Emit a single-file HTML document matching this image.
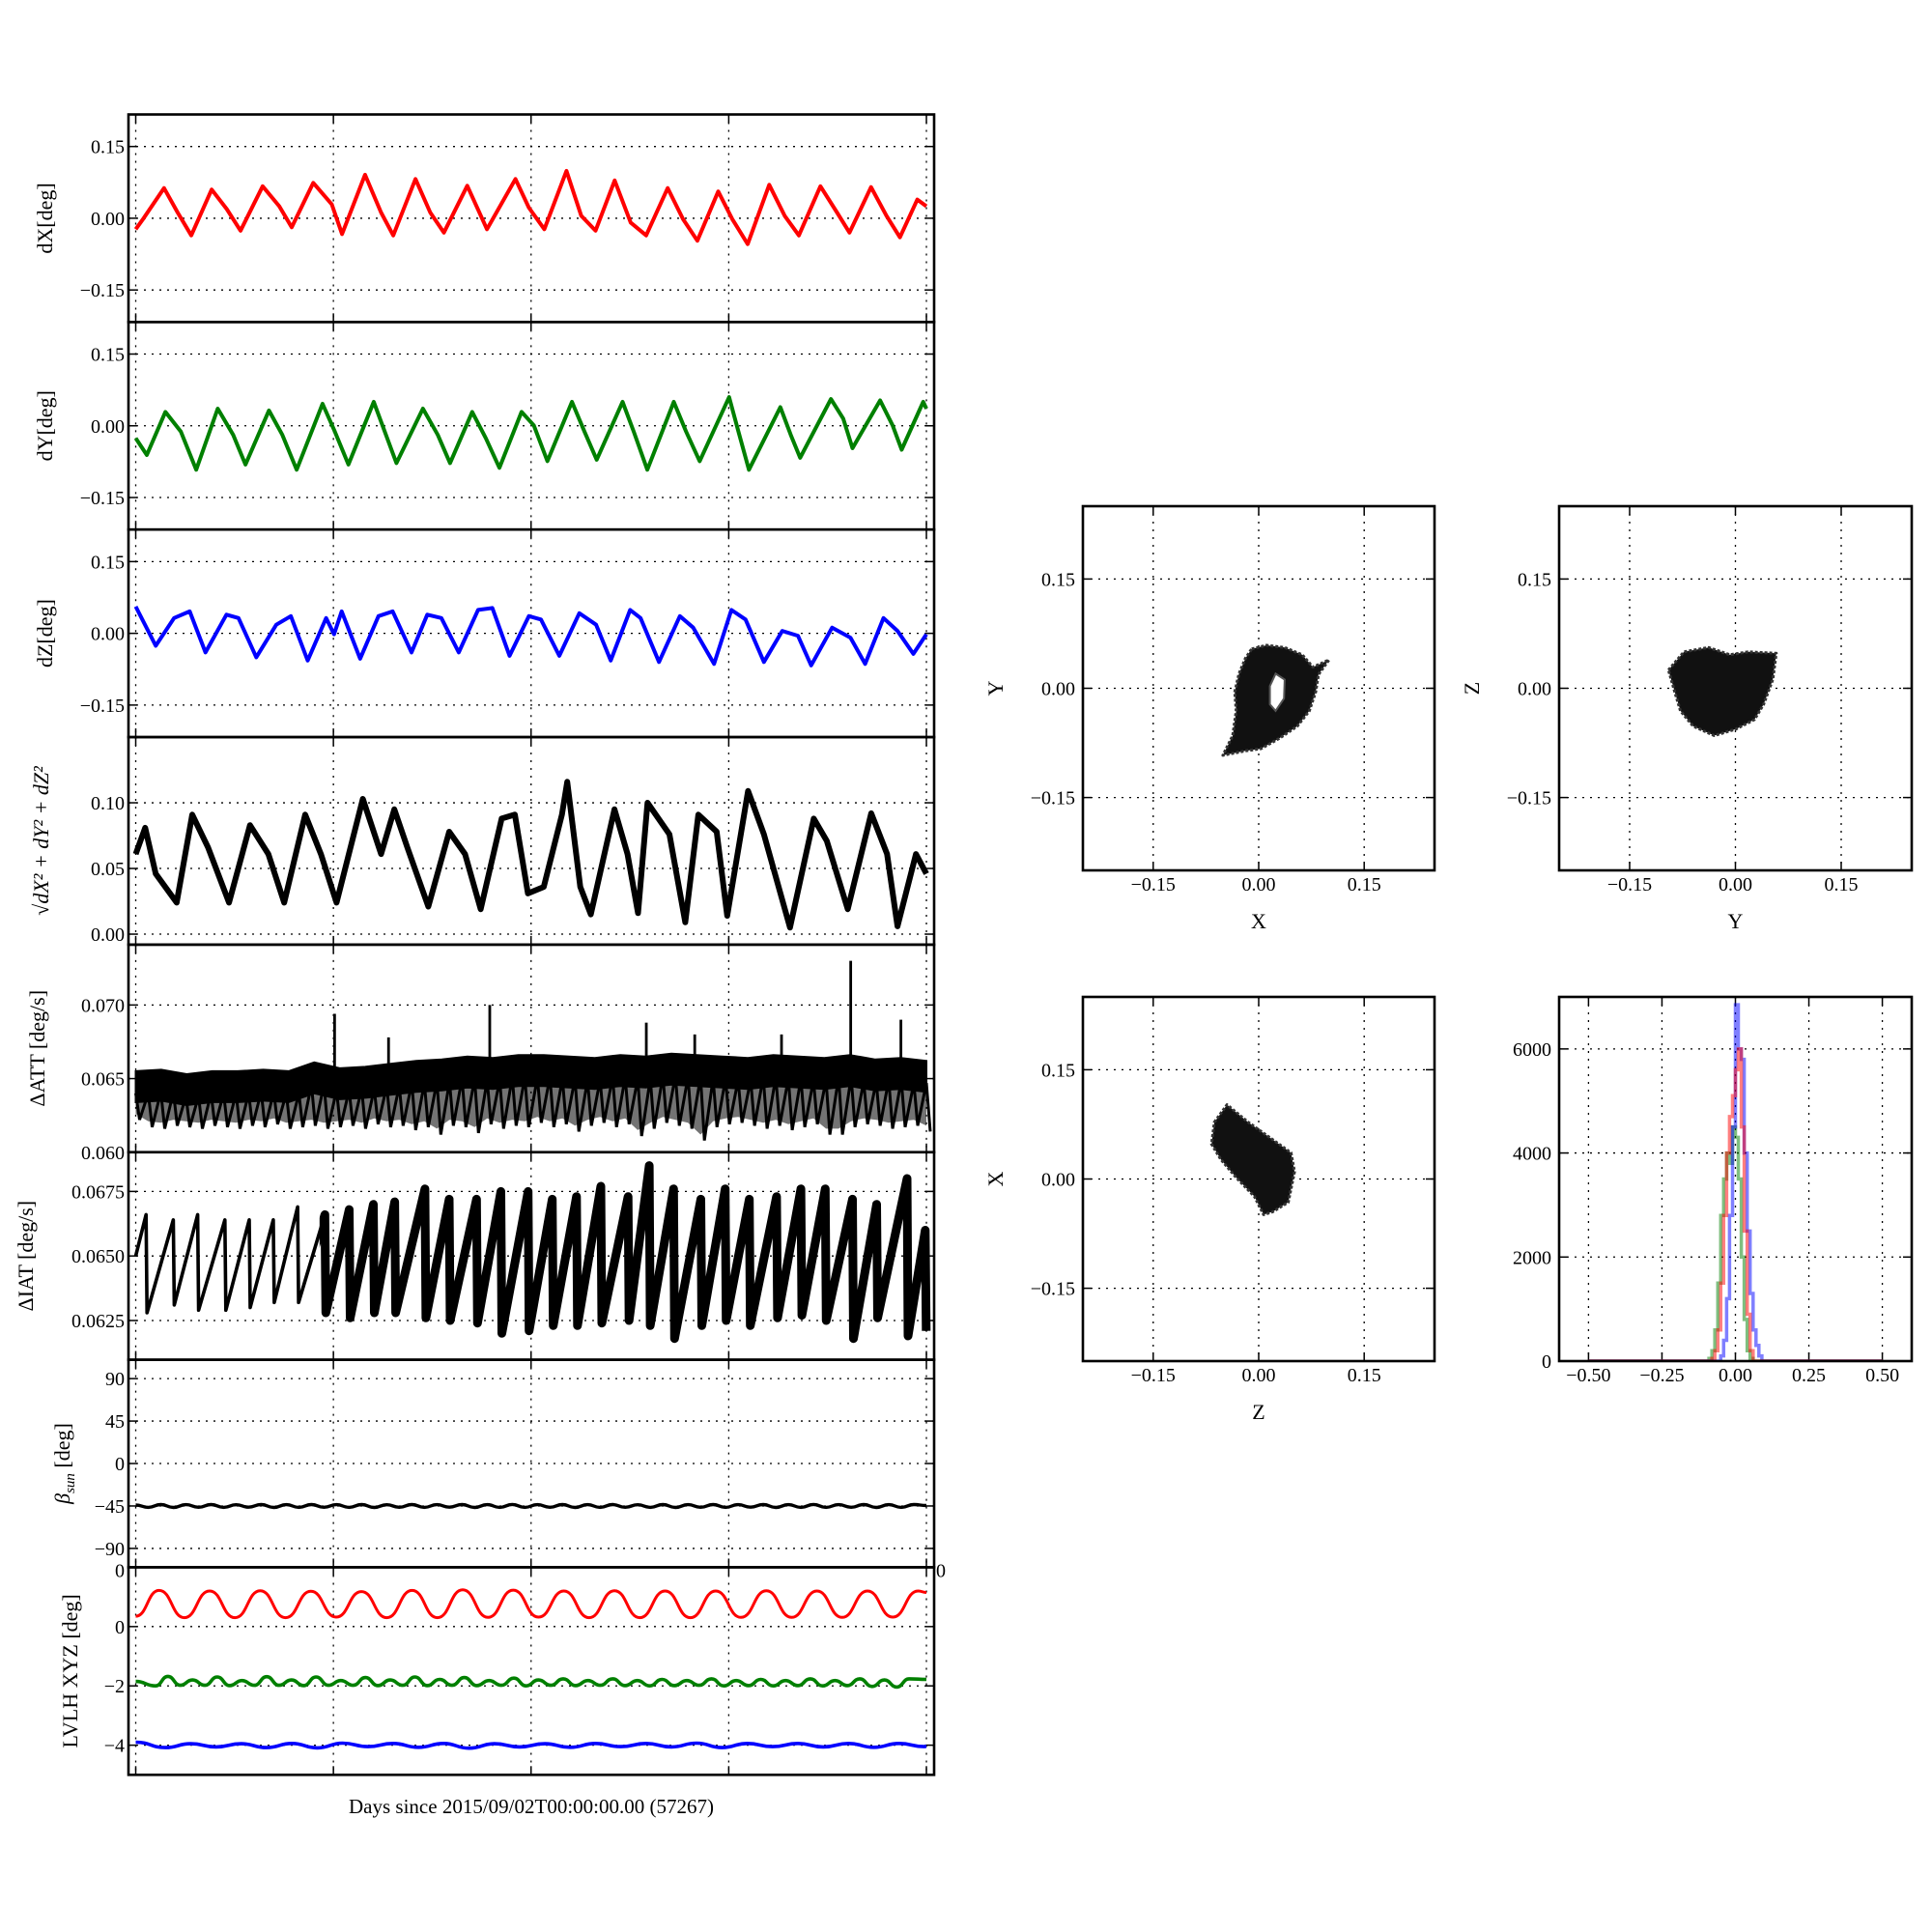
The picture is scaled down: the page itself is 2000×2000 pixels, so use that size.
<!DOCTYPE html>
<html><head><meta charset="utf-8">
<style>
body{margin:0;background:#fff}
svg{display:block}
text{font-family:"Liberation Serif",serif;fill:#000}
</style></head>
<body>
<svg id="chart" width="2000" height="2000" viewBox="0 0 2000 2000"></svg>
<script>
// ---------------- DATA ----------------
const timeTicks=[0,1,2,3,4];
const dxT=[0,0.04,0.143,0.212,0.281,0.384,0.461,0.530,0.642,0.726,0.789,0.898,0.992,1.044,1.160,1.241,1.303,1.415,1.490,1.559,1.677,1.777,1.921,1.989,2.067,2.179,2.254,2.326,2.423,2.504,2.582,2.691,2.769,2.841,2.947,3.018,3.096,3.205,3.283,3.355,3.464,3.548,3.611,3.720,3.798,3.866,3.954,4.0];
const dxV=[-0.023,0.0,0.063,0.012,-0.036,0.060,0.019,-0.026,0.067,0.025,-0.019,0.074,0.029,-0.033,0.091,0.012,-0.036,0.082,0.012,-0.030,0.068,-0.023,0.082,0.022,-0.023,0.099,0.005,-0.026,0.079,-0.009,-0.036,0.063,-0.002,-0.047,0.056,-0.002,-0.054,0.070,0.005,-0.036,0.067,0.012,-0.030,0.065,0.005,-0.040,0.039,0.025];
const dyT=[0,0.056,0.150,0.228,0.306,0.415,0.493,0.555,0.674,0.742,0.814,0.945,1.007,1.076,1.204,1.272,1.319,1.453,1.528,1.590,1.702,1.771,1.840,1.952,2.014,2.083,2.207,2.270,2.332,2.463,2.519,2.588,2.722,2.784,2.853,3.002,3.049,3.102,3.261,3.314,3.361,3.517,3.579,3.626,3.766,3.829,3.875,3.984,4.0];
const dyV=[-0.026,-0.061,0.029,-0.012,-0.092,0.036,-0.019,-0.081,0.032,-0.019,-0.092,0.046,-0.012,-0.081,0.050,-0.026,-0.078,0.036,-0.019,-0.078,0.029,-0.026,-0.088,0.029,0.001,-0.074,0.050,-0.012,-0.071,0.050,-0.012,-0.092,0.050,-0.012,-0.074,0.060,-0.012,-0.092,0.039,-0.019,-0.067,0.056,0.015,-0.047,0.053,0.001,-0.050,0.050,0.036];
const dzT=[0,0.101,0.194,0.273,0.353,0.459,0.520,0.610,0.711,0.785,0.870,0.963,1.003,1.042,1.135,1.228,1.300,1.395,1.475,1.546,1.634,1.732,1.804,1.891,1.989,2.050,2.143,2.244,2.329,2.403,2.501,2.554,2.647,2.753,2.820,2.926,3.013,3.085,3.178,3.271,3.350,3.417,3.523,3.616,3.690,3.783,3.854,3.934,4.0];
const dzV=[0.056,-0.026,0.032,0.046,-0.040,0.039,0.032,-0.050,0.018,0.036,-0.057,0.032,-0.002,0.046,-0.053,0.036,0.046,-0.040,0.039,0.032,-0.040,0.049,0.053,-0.047,0.036,0.029,-0.047,0.042,0.018,-0.057,0.049,0.032,-0.060,0.036,0.012,-0.064,0.049,0.029,-0.060,0.005,-0.005,-0.067,0.012,-0.009,-0.064,0.032,0.005,-0.043,-0.002];
const normT=[0,0.048,0.101,0.207,0.286,0.366,0.472,0.578,0.671,0.751,0.857,0.937,1.016,1.149,1.241,1.308,1.374,1.480,1.586,1.666,1.745,1.851,1.918,1.984,2.064,2.156,2.183,2.249,2.302,2.422,2.488,2.541,2.589,2.700,2.780,2.846,2.939,2.992,3.098,3.178,3.310,3.430,3.496,3.602,3.721,3.801,3.854,3.947,4.0];
const normV=[0.061,0.081,0.046,0.024,0.091,0.066,0.024,0.083,0.061,0.024,0.091,0.061,0.024,0.103,0.061,0.095,0.066,0.021,0.078,0.061,0.019,0.088,0.091,0.031,0.036,0.091,0.116,0.036,0.015,0.095,0.061,0.016,0.100,0.076,0.009,0.091,0.078,0.014,0.109,0.076,0.005,0.088,0.071,0.019,0.092,0.061,0.006,0.061,0.046];
const attUpper=[0.0655,0.0656,0.0653,0.0655,0.0655,0.0656,0.0655,0.0661,0.0657,0.0658,0.0660,0.0662,0.0663,0.0665,0.0664,0.0666,0.0666,0.0665,0.0664,0.0666,0.0665,0.0667,0.0666,0.0665,0.0664,0.0666,0.0665,0.0664,0.0666,0.0663,0.0664,0.0662];
const attLower=[0.0622,0.0617,0.0616,0.0618,0.0617,0.0616,0.0618,0.0617,0.0616,0.0618,0.0617,0.0619,0.0616,0.0617,0.0618,0.0616,0.0617,0.0618,0.0616,0.0619,0.0617,0.0618,0.0615,0.0617,0.0612,0.0618,0.0617,0.0613,0.0619,0.0616,0.0618,0.0617,0.0620,0.0617,0.0619,0.0614,0.0618,0.0620,0.0617,0.0619,0.0611,0.0616,0.0620,0.0618,0.0616,0.0608,0.0617,0.0619,0.0620,0.0618,0.0616,0.0618,0.0615,0.0617,0.0619,0.0612,0.0612,0.0617,0.0619,0.0618,0.0616,0.0617,0.0618,0.0614];
const attSpikeT=[1.006,1.279,1.791,2.583,2.828,3.267,3.617,3.871];
const attSpikeV=[0.0694,0.0678,0.0700,0.0688,0.0680,0.0680,0.0730,0.0690];
const iatPeakT=[0.052,0.190,0.313,0.451,0.574,0.696,0.819,0.957,1.080,1.202,1.310,1.463,1.586,1.724,1.847,1.985,2.107,2.230,2.353,2.491,2.598,2.721,2.859,2.982,3.104,3.242,3.365,3.488,3.626,3.748,3.902,3.994];
const iatHigh=[0.0666,0.0664,0.0666,0.0664,0.0664,0.0664,0.0669,0.0666,0.0668,0.0670,0.0671,0.0676,0.0672,0.0672,0.0675,0.0675,0.0672,0.0673,0.0677,0.0673,0.0685,0.0676,0.0672,0.0676,0.0672,0.0673,0.0676,0.0676,0.0672,0.0670,0.0680,0.0660];
const iatLow=[0.0628,0.0631,0.0629,0.0629,0.0630,0.0632,0.0632,0.0628,0.0626,0.0628,0.0628,0.0626,0.0625,0.0624,0.0620,0.0621,0.0623,0.0623,0.0624,0.0625,0.0623,0.0618,0.0623,0.0625,0.0623,0.0626,0.0627,0.0625,0.0618,0.0626,0.0619,0.0621];
const betaV=[-44,-46.5,-43.5,-46.6,-43.6,-46.4,-43.5,-46.5,-43.7,-46.3,-43.5,-46.6,-43.6,-46.5,-43.5,-46.4,-43.6,-46.5,-43.5,-46.6,-43.7,-46.4,-43.5,-46.5,-43.6,-46.3,-43.5,-46.6,-43.6,-46.5,-43.4,-46.5,-43.6,-46.4,-43.5,-46.6,-43.6,-46.5,-43.5,-46.4,-43.7,-46.5,-43.5,-46.6,-43.6,-46.4,-43.5,-46.5,-43.6,-46.3,-43.5,-46.6,-43.6,-46.5,-43.4,-46.5,-43.6,-46.4,-43.5,-46.6,-43.6,-46.5,-43.5,-44.5];
const lvlhRed=[0.35,1.22,0.30,1.20,0.30,1.21,0.30,1.19,0.32,1.18,0.30,1.22,0.30,1.24,0.31,1.23,0.32,1.20,0.30,1.21,0.30,1.20,0.30,1.20,0.31,1.21,0.31,1.20,0.31,1.20,0.32,1.20,1.15];
const lvlhGreen=[-1.85,-2.0,-1.68,-1.98,-1.80,-1.98,-1.70,-1.99,-1.82,-1.98,-1.69,-1.98,-1.80,-1.99,-1.70,-1.98,-1.82,-1.98,-1.72,-1.99,-1.80,-1.98,-1.70,-1.99,-1.78,-1.98,-1.72,-1.99,-1.82,-1.98,-1.74,-2.0,-1.80,-1.98,-1.76,-1.99,-1.82,-1.98,-1.76,-1.99,-1.82,-2.0,-1.78,-1.99,-1.82,-1.98,-1.76,-2.0,-1.82,-1.99,-1.78,-2.0,-1.82,-1.99,-1.76,-2.0,-1.82,-1.99,-1.76,-2.02,-1.80,-2.04,-1.76,-1.78];
const lvlhBlue=[-3.90,-4.08,-3.95,-4.06,-3.95,-4.08,-3.94,-4.09,-3.93,-4.05,-3.94,-4.07,-3.94,-4.10,-3.95,-4.06,-3.95,-4.07,-3.94,-4.05,-3.94,-4.06,-3.93,-4.08,-3.94,-4.05,-3.94,-4.06,-3.94,-4.07,-3.94,-4.05,-4.04];
const xyX=[-0.010,0.011,0.037,0.062,0.077,0.100,0.085,0.081,0.072,0.055,0.029,0.003,-0.019,-0.051,-0.037,-0.032,-0.034,-0.028,-0.019];
const xyY=[0.054,0.059,0.056,0.046,0.029,0.039,0.019,-0.005,-0.031,-0.052,-0.069,-0.083,-0.086,-0.092,-0.065,-0.031,-0.005,0.020,0.041];
const xyHoleX=[0.024,0.037,0.036,0.024,0.016,0.016];
const xyHoleY=[0.020,0.012,-0.014,-0.031,-0.022,0.003];
const yzX=[-0.095,-0.073,-0.038,-0.008,0.018,0.058,0.053,0.040,0.027,0.001,-0.030,-0.060,-0.078,-0.086];
const yzY=[0.025,0.050,0.056,0.046,0.050,0.048,0.012,-0.022,-0.043,-0.056,-0.065,-0.052,-0.031,-0.005];
const zxX=[-0.063,-0.045,-0.015,0.020,0.046,0.051,0.042,0.020,0.007,-0.006,-0.032,-0.054,-0.067];
const zxY=[0.078,0.102,0.078,0.054,0.036,0.010,-0.032,-0.045,-0.049,-0.024,0.002,0.027,0.048];
const histEdges=[-0.12,-0.11,-0.10,-0.09,-0.08,-0.07,-0.06,-0.05,-0.04,-0.03,-0.02,-0.01,0.00,0.01,0.02,0.03,0.04,0.05,0.06,0.07,0.08,0.09,0.10,0.11,0.12];
const histBlue=[0,0,0,0,0,0,0,100,400,1200,2800,4500,6850,6000,5800,4000,2500,1300,600,300,100,0,0,0];
const histRed=[0,0,0,0,50,200,600,1500,2800,4000,4700,5100,5600,6000,4500,2500,900,200,0,0,0,0,0,0];
const histGreen=[0,0,0,50,200,600,1500,2800,3500,4000,3800,4500,4300,3500,2000,800,200,50,0,0,0,0,0,0];

// ---------------- DRAWING ----------------
const NS='http://www.w3.org/2000/svg';
const root=document.getElementById('chart');
function el(tag,attrs,parent){const e=document.createElementNS(NS,tag);for(const k in attrs)e.setAttribute(k,attrs[k]);parent.appendChild(e);return e;}
const bg=el('rect',{x:0,y:0,width:2000,height:2000,fill:'#fff'},root);



const L=133,R=967,T0=118.5,H=214.85,TMIN=-0.0367,TMAX=4.039;
function tx(t){return L+(t-TMIN)/(TMAX-TMIN)*(R-L);}
const GRID='2 6';

function panel(idx,ymin,ymax,ticks,labels,name){
  const top=T0+idx*H, bot=top+H;
  const sy=v=>bot-(v-ymin)/(ymax-ymin)*H;
  const g=el('g',{},root);
  
  
  const cp=el('clipPath',{id:'clip'+idx},g);
  el('rect',{x:L,y:top,width:R-L,height:H},cp);
  timeTicks.forEach(t=>{
    const gl=el('line',{x1:tx(t),x2:tx(t),y1:top,y2:bot,stroke:'#000','stroke-width':1.3,'stroke-dasharray':GRID},g);
    
    
    el('line',{x1:tx(t),x2:tx(t),y1:top,y2:top+9,stroke:'#000','stroke-width':1.5},g);
    el('line',{x1:tx(t),x2:tx(t),y1:bot,y2:bot-9,stroke:'#000','stroke-width':1.5},g);
  });
  ticks.forEach((v,i)=>{
    const y=sy(v);
    const gl=el('line',{x1:L,x2:R,y1:y,y2:y,stroke:'#000','stroke-width':1.3,'stroke-dasharray':GRID},g);
    
    
    el('line',{x1:L,x2:L+9,y1:y,y2:y,stroke:'#000','stroke-width':1.5},g);
    el('line',{x1:R,x2:R-9,y1:y,y2:y,stroke:'#000','stroke-width':1.5},g);
    const tl=el('text',{x:L-4,y:y+7,'text-anchor':'end','font-size':20},g);
    tl.textContent=labels[i];
    
    
  });
  const data=el('g',{'clip-path':'url(#clip'+idx+')'},g);
  
  
  const fr=el('rect',{x:L,y:top,width:R-L,height:H,fill:'none',stroke:'#000','stroke-width':2.6},g);
  
  
  return {g,data,sy,top,bot};
}
function yTitle(p,txt,name,x){
  const t=el('text',{x:0,y:0,'text-anchor':'middle','font-size':22,transform:`translate(${x||54},${(p.top+p.bot)/2}) rotate(-90)`},p.g);
  t.textContent=txt;
  
  
  return t;
}
function lineD(ts,vs,sy){return ts.map((t,i)=>(i?'L':'M')+tx(t).toFixed(1)+','+sy(vs[i]).toFixed(1)).join('');}
function smoothD(ts,vs,sy){
  let d='M'+tx(ts[0]).toFixed(1)+','+sy(vs[0]).toFixed(1);
  for(let i=1;i<ts.length;i++){
    const x0=tx(ts[i-1]),x1=tx(ts[i]),xm=(x0+x1)/2;
    d+=`C${xm.toFixed(1)},${sy(vs[i-1]).toFixed(1)} ${xm.toFixed(1)},${sy(vs[i]).toFixed(1)} ${x1.toFixed(1)},${sy(vs[i]).toFixed(1)}`;
  }
  return d;
}
const pmLab=['−0.15','0.00','0.15'];

// dX
const p0=panel(0,-0.217,0.217,[-0.15,0,0.15],pmLab,'dx');
yTitle(p0,'dX[deg]','dx-axis-title');
let s=el('path',{d:lineD(dxT,dxV,p0.sy),fill:'none',stroke:'#ff0000','stroke-width':4,'stroke-linejoin':'round'},p0.data);

// dY
const p1=panel(1,-0.217,0.217,[-0.15,0,0.15],pmLab,'dy');
yTitle(p1,'dY[deg]','dy-axis-title');
s=el('path',{d:lineD(dyT,dyV,p1.sy),fill:'none',stroke:'#008000','stroke-width':4,'stroke-linejoin':'round'},p1.data);

// dZ
const p2=panel(2,-0.217,0.217,[-0.15,0,0.15],pmLab,'dz');
yTitle(p2,'dZ[deg]','dz-axis-title');
s=el('path',{d:lineD(dzT,dzV,p2.sy),fill:'none',stroke:'#0000ff','stroke-width':4,'stroke-linejoin':'round'},p2.data);

// norm
const p3=panel(3,-0.008,0.15,[0,0.05,0.10],['0.00','0.05','0.10'],'norm');
const nt=yTitle(p3,'','norm-axis-title',50);
nt.setAttribute('font-style','italic');
nt.textContent='√dX² + dY² + dZ²';
s=el('path',{d:lineD(normT,normV,p3.sy),fill:'none',stroke:'#000','stroke-width':6,'stroke-linejoin':'round'},p3.data);

// dATT
const p4=panel(4,0.060,0.0741,[0.060,0.065,0.070],['0.060','0.065','0.070'],'datt');
yTitle(p4,'ΔATT [deg/s]','datt-axis-title',46);
{
  const n=attUpper.length;
  const ts=attUpper.map((v,i)=>i/(n-1)*4);
  const m=attLower.length;
  const lt=attLower.map((v,j)=>j/(m-1)*4);
  // grey striped region between lower envelope and core band
  let gd='M'+lt.map((t,j)=>tx(t).toFixed(1)+','+p4.sy(attLower[j]+0.0004).toFixed(1)).join('L');
  for(let i=n-1;i>=0;i--) gd+='L'+tx(ts[i]).toFixed(1)+','+p4.sy(attUpper[i]-0.002).toFixed(1);
  s=el('path',{d:gd+'Z',fill:'#000','fill-opacity':0.55,stroke:'none'},p4.data);
  
  let d='M'+ts.map((t,i)=>tx(t).toFixed(1)+','+p4.sy(attUpper[i]).toFixed(1)).join('L');
  for(let i=n-1;i>=0;i--) d+='L'+tx(ts[i]).toFixed(1)+','+p4.sy(attUpper[i]-0.0021).toFixed(1);
  s=el('path',{d:d+'Z',fill:'#000',stroke:'#000','stroke-width':2},p4.data);
  
  let zd='';
  attLower.forEach((v,j)=>{const t=lt[j];const up=attUpper[Math.round(j/(m-1)*(n-1))];zd+=(j?'L':'M')+tx(t).toFixed(1)+','+p4.sy(up-0.0015).toFixed(1)+'L'+(tx(t)+4).toFixed(1)+','+p4.sy(v).toFixed(1);});
  s=el('path',{d:zd,fill:'none',stroke:'#000','stroke-width':3},p4.data);
  
  attSpikeT.forEach((t,i)=>{
    const sp=el('line',{x1:tx(t),x2:tx(t),y1:p4.sy(0.0652),y2:p4.sy(attSpikeV[i]),stroke:'#000','stroke-width':2.8},p4.data);
    
  });
}
// dIAT
const p5=panel(5,0.06098,0.06902,[0.0625,0.0650,0.0675],['0.0625','0.0650','0.0675'],'diat');
yTitle(p5,'ΔIAT [deg/s]','diat-axis-title',34);
{
  let d='M'+tx(0).toFixed(1)+','+p5.sy(0.0650).toFixed(1);
  iatPeakT.forEach((t,i)=>{d+='L'+tx(t).toFixed(1)+','+p5.sy(iatHigh[i]).toFixed(1)+'L'+(tx(t)+1).toFixed(1)+','+p5.sy(iatLow[i]).toFixed(1);});
  s=el('path',{d,fill:'none',stroke:'#000','stroke-width':3.6,'stroke-linejoin':'round'},p5.data);
  
  const cp=el('clipPath',{id:'iatThick'},p5.g);
  el('rect',{x:tx(0.93),y:p5.top,width:R-tx(0.93),height:H},cp);
  const gg=el('g',{'clip-path':'url(#iatThick)'},p5.data);
  s=el('path',{d,fill:'none',stroke:'#000','stroke-width':9,'stroke-linejoin':'round'},gg);
  
}
// beta sun
const p6=panel(6,-110,110,[-90,-45,0,45,90],['−90','−45','0','45','90'],'beta');
{
  const t=yTitle(p6,'','beta-axis-title',72);
  const a=el('tspan',{'font-style':'italic'},t);a.textContent='β';
  const b=el('tspan',{'font-style':'italic','font-size':15,dy:5},t);b.textContent='sun';
  const c=el('tspan',{dy:-5},t);c.textContent=' [deg]';
  const ts=betaV.map((v,i)=>i/(betaV.length-1)*4);
  s=el('path',{d:smoothD(ts,betaV,p6.sy),fill:'none',stroke:'#000','stroke-width':3.4},p6.data);
  
}
// LVLH
const p7=panel(7,-5,2,[-4,-2,0],['−4','−2','0'],'lvlh');
yTitle(p7,'LVLH XYZ [deg]','lvlh-axis-title',80);
{
  const tlL=el('text',{x:L-4,y:p7.top+10,'text-anchor':'end','font-size':20},p7.g);tlL.textContent='0';
  
  const tlR=el('text',{x:R+2,y:p7.top+10,'font-size':20},p7.g);tlR.textContent='0';
  
  const rt=lvlhRed.map((v,i)=>i===0?0:(i===lvlhRed.length-1?4:0.118+0.128*(i-1)));
  s=el('path',{d:smoothD(rt,lvlhRed,p7.sy),fill:'none',stroke:'#ff0000','stroke-width':3},p7.data);
  
  const gt=lvlhGreen.map((v,i)=>i===0?0:(i===lvlhGreen.length-1?4:0.10+0.0625*(i-1)));
  s=el('path',{d:smoothD(gt,lvlhGreen,p7.sy),fill:'none',stroke:'#008000','stroke-width':3.6},p7.data);
  
  const bt=lvlhBlue.map((v,i)=>i===0?0:(i===lvlhBlue.length-1?4:0.15+0.128*(i-1)));
  s=el('path',{d:smoothD(bt,lvlhBlue,p7.sy),fill:'none',stroke:'#0000ff','stroke-width':3.6},p7.data);
  
}
const xl=el('text',{x:550,y:1877,'text-anchor':'middle','font-size':21},root);
xl.textContent='Days since 2015/09/02T00:00:00.00 (57267)';


// ---------- right-side square plots ----------
function sq(x0,y0,x1,y1,xmin,xmax,ymin,ymax,xt,xl2,yt,yl2,xTitle,yTitleTxt,name){
  const g=el('g',{},root);
  
  
  const sx=v=>x0+(v-xmin)/(xmax-xmin)*(x1-x0);
  const sy=v=>y1-(v-ymin)/(ymax-ymin)*(y1-y0);
  const id='clip-'+name;
  const cp=el('clipPath',{id},g);el('rect',{x:x0,y:y0,width:x1-x0,height:y1-y0},cp);
  xt.forEach((v,i)=>{
    const gl=el('line',{x1:sx(v),x2:sx(v),y1:y0,y2:y1,stroke:'#000','stroke-width':1.3,'stroke-dasharray':GRID},g);
    
    el('line',{x1:sx(v),x2:sx(v),y1:y0,y2:y0+9,stroke:'#000','stroke-width':1.5},g);
    el('line',{x1:sx(v),x2:sx(v),y1:y1,y2:y1-9,stroke:'#000','stroke-width':1.5},g);
    const t=el('text',{x:sx(v),y:y1+21,'text-anchor':'middle','font-size':20},g);t.textContent=xl2[i];
    
  });
  yt.forEach((v,i)=>{
    const gl=el('line',{x1:x0,x2:x1,y1:sy(v),y2:sy(v),stroke:'#000','stroke-width':1.3,'stroke-dasharray':GRID},g);
    
    el('line',{x1:x0,x2:x0+9,y1:sy(v),y2:sy(v),stroke:'#000','stroke-width':1.5},g);
    el('line',{x1:x1,x2:x1-9,y1:sy(v),y2:sy(v),stroke:'#000','stroke-width':1.5},g);
    const t=el('text',{x:x0-8,y:sy(v)+7,'text-anchor':'end','font-size':20},g);t.textContent=yl2[i];
    
  });
  if(xTitle){const t=el('text',{x:(x0+x1)/2,y:y1+60,'text-anchor':'middle','font-size':22},g);t.textContent=xTitle;
    }
  if(yTitleTxt){const t=el('text',{x:0,y:0,'text-anchor':'middle','font-size':22,transform:`translate(${x0-83},${(y0+y1)/2}) rotate(-90)`},g);t.textContent=yTitleTxt;
    }
  const data=el('g',{'clip-path':`url(#${id})`},g);
  
  const fr=el('rect',{x:x0,y:y0,width:x1-x0,height:y1-y0,fill:'none',stroke:'#000','stroke-width':2.6},g);
  
  return {sx,sy,data};
}
const sqT=[-0.15,0,0.15];
function cloud(p,xs,ys,name){
  const d='M'+xs.map((x,i)=>p.sx(x).toFixed(1)+','+p.sy(ys[i]).toFixed(1)).join('L')+'Z';
  const c=el('path',{d,fill:'#111',stroke:'#333','stroke-width':3,'stroke-linejoin':'round','stroke-dasharray':'3 2'},p.data);
  
}
const pxy=sq(1121,524,1485,901,-0.25,0.25,-0.25,0.25,sqT,pmLab,sqT,pmLab,'X','Y','xy-scatter');
cloud(pxy,xyX,xyY,'xy-cloud');
{
  const d='M'+xyHoleX.map((x,i)=>pxy.sx(x).toFixed(1)+','+pxy.sy(xyHoleY[i]).toFixed(1)).join('L')+'Z';
  const h=el('path',{d,fill:'#fff',stroke:'#555','stroke-width':2},pxy.data);
  
}
const pyz=sq(1614,524,1979,901,-0.25,0.25,-0.25,0.25,sqT,pmLab,sqT,pmLab,'Y','Z','yz-scatter');
cloud(pyz,yzX,yzY,'yz-cloud');
const pzx=sq(1121,1032,1485,1409,-0.25,0.25,-0.25,0.25,sqT,pmLab,sqT,pmLab,'Z','X','zx-scatter');
cloud(pzx,zxX,zxY,'zx-cloud');
const ph=sq(1614,1032,1979,1409,-0.6,0.6,0,7000,[-0.5,-0.25,0,0.25,0.5],['−0.50','−0.25','0.00','0.25','0.50'],[0,2000,4000,6000],['0','2000','4000','6000'],'','','histogram');
function hist(counts,color,name){
  let d='M'+ph.sx(-0.5).toFixed(1)+','+ph.sy(0).toFixed(1)+'L'+ph.sx(histEdges[0]).toFixed(1)+','+ph.sy(0).toFixed(1);
  counts.forEach((c,i)=>{d+='L'+ph.sx(histEdges[i]).toFixed(1)+','+ph.sy(c).toFixed(1)+'L'+ph.sx(histEdges[i+1]).toFixed(1)+','+ph.sy(c).toFixed(1);});
  d+='L'+ph.sx(histEdges[histEdges.length-1]).toFixed(1)+','+ph.sy(0).toFixed(1)+'L'+ph.sx(0.5).toFixed(1)+','+ph.sy(0).toFixed(1);
  const h=el('path',{d,fill:'none',stroke:color,'stroke-width':3.5,'stroke-opacity':0.5},ph.data);
  
}
hist(histGreen,'#008000','hist-dy');
hist(histBlue,'#0000ff','hist-dz');
hist(histRed,'#ff0000','hist-dx');
</script>
</body></html>
